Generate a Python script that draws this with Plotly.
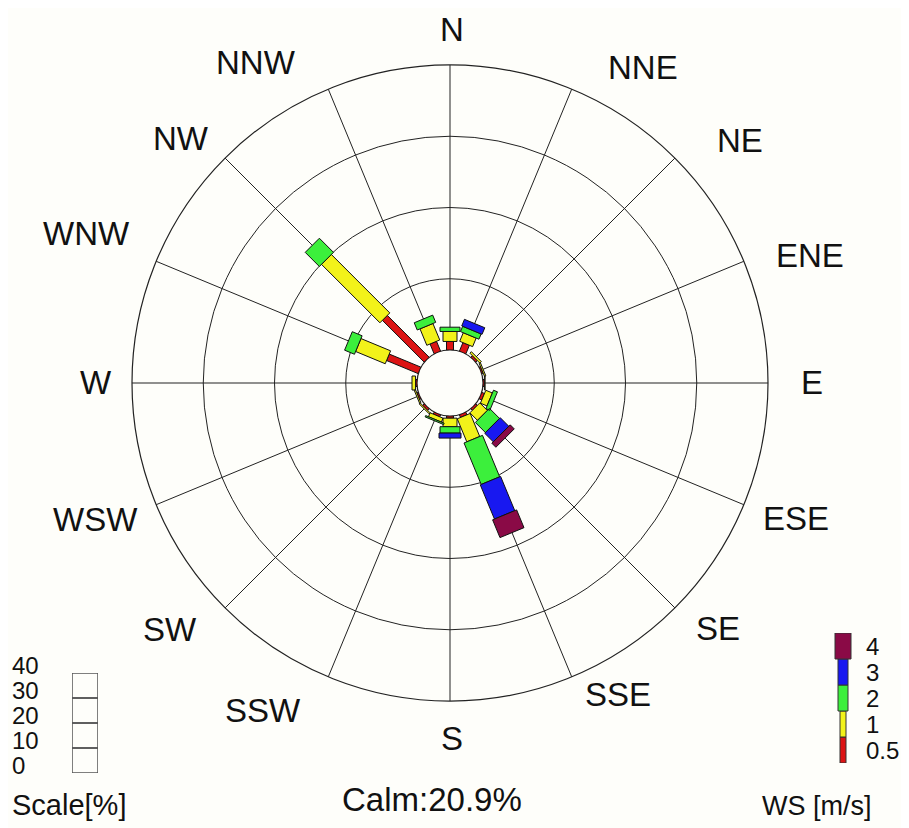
import math
import plotly.graph_objects as go

# ---------------- data ----------------
directions = ["N", "NNE", "NE", "ENE", "E", "ESE", "SE", "SSE",
              "S", "SSW", "SW", "WSW", "W", "WNW", "NW", "NNW"]
speed_classes = ["0.5-1", "1-2", "2-3", "3-4", ">4"]
# frequency [%] per direction and speed class
ws_05_1 = [1.2, 1.3, 0.3, 0.2, 0.2, 0.4, 0.3, 0.4, 0.3, 0.3, 0.3, 0.2, 0.2, 4.8, 8.3, 1.5]
ws_1_2 = [1.4, 1.3, 0.3, 0.2, 0.1, 1.0, 1.5, 3.5, 1.2, 0.6, 0.2, 0.2, 0.5, 4.5, 11.6, 2.5]
ws_2_3 = [0.6, 0.8, 0.0, 0.0, 0.0, 0.6, 2.0, 6.3, 0.9, 0.2, 0.0, 0.0, 0.0, 1.5, 2.8, 1.1]
ws_3_4 = [0.0, 1.0, 0.0, 0.0, 0.0, 0.0, 1.7, 5.2, 0.7, 0.0, 0.0, 0.0, 0.0, 0.0, 0.0, 0.0]
ws_4p = [0.0, 0.0, 0.0, 0.0, 0.0, 0.0, 0.8, 2.7, 0.0, 0.0, 0.0, 0.0, 0.0, 0.0, 0.0, 0.0]
calm_pct = 20.9
ring_ticks = [10, 20, 30, 40]
scale_ticks = [0, 10, 20, 30, 40]
ws_labels = ["0.5", "1", "2", "3", "4"]

series = [ws_05_1, ws_1_2, ws_2_3, ws_3_4, ws_4p]

# ---------------- styles / geometry ----------------
colors = ["#dc1414", "#f2f21a", "#3cef3c", "#1818f0", "#8a0a46"]
bar_px = [7, 14, 20, 22, 26]          # bar widths in pixels per class
leg_w = [0.3, 0.3, 0.5, 0.5, 0.8]     # legend widths (x units)
PAGE_W, PAGE_H = 909, 828
OFF = 8                               # default page body margin
W, H = PAGE_W - OFF, PAGE_H - OFF     # figure size so it fits the window
CX, CY = 450, 383                     # page pixel coordinates of the rose centre
R_PX, HOLE_PX = 318, 33
RMAX = ring_ticks[-1]
K = (R_PX - HOLE_PX) / RMAX
BG = "#fefefa"
FONT = "Liberation Sans, Arial, sans-serif"
INK = "#111111"
# page positions (centres) of the compass labels, in the same order as `directions`
label_xy = [(452, 23), (643, 68), (740, 140), (810, 255), (812, 383), (796, 518),
            (718, 628), (618, 694), (452, 738), (263, 710), (170, 629), (95, 519),
            (96, 383), (86, 233), (181, 138), (256, 63)]


def px(x):
    return (x - OFF) / W


def py(y):
    return (H - (y - OFF)) / H


angles = [i * 360 / len(directions) for i in range(len(directions))]


def rect(theta, ra, rb, half_w):
    """rectangle of constant pixel width along direction theta, in polar data coords"""
    rs, ts = [], []
    da, db = HOLE_PX + ra * K, HOLE_PX + rb * K
    for d, s in [(da, -1), (db, -1), (db, 1), (da, 1), (da, -1)]:
        rho = math.hypot(d, half_w)
        rs.append((rho - HOLE_PX) / K)
        ts.append(theta + s * math.degrees(math.atan2(half_w, d)))
    rs.append(None)
    ts.append(None)
    return rs, ts


fig = go.Figure()

for ci, vals in enumerate(series):
    R, T = [], []
    for di, v in enumerate(vals):
        if v <= 0:
            continue
        base = sum(series[j][di] for j in range(ci))
        rs, ts = rect(angles[di], base, base + v, bar_px[ci] / 2)
        R += rs
        T += ts
    fig.add_trace(go.Scatterpolar(
        r=R, theta=T, mode="lines", fill="toself",
        fillcolor=colors[ci], line=dict(color=INK, width=1),
        name=speed_classes[ci], showlegend=False, hoverinfo="skip"))

# ---------------- WS legend (cartesian x/y) ----------------
for ci in range(len(speed_classes)):
    fig.add_trace(go.Bar(
        x=[0], y=[1], base=[ci], width=[leg_w[ci]],
        marker=dict(color=colors[ci], line=dict(color="#333333", width=1)),
        xaxis="x", yaxis="y", showlegend=False, hoverinfo="skip"))

# ---------------- Scale legend (cartesian x2/y2) ----------------
for i in range(len(scale_ticks) - 1):
    fig.add_trace(go.Bar(
        x=[0], y=[scale_ticks[i + 1] - scale_ticks[i]], base=[scale_ticks[i]], width=[1],
        marker=dict(color="rgba(0,0,0,0)", line=dict(color="#555555", width=1.5)),
        xaxis="x2", yaxis="y2", showlegend=False, hoverinfo="skip"))

annotations = []
for name, (lx, ly) in zip(directions, label_xy):
    if ly - 20 < OFF:
        # keep the top label fully inside the figure
        annotations.append(dict(text=name, x=px(lx), y=py(OFF + 1), xref="paper", yref="paper",
                                xanchor="center", yanchor="top", showarrow=False,
                                font=dict(size=33, color=INK, family=FONT)))
    else:
        annotations.append(dict(text=name, x=px(lx), y=py(ly), xref="paper", yref="paper",
                                xanchor="center", yanchor="middle", showarrow=False,
                                font=dict(size=33, color=INK, family=FONT)))
for i, lab in enumerate(ws_labels):
    annotations.append(dict(text=lab, x=px(864), xref="paper", y=i + 0.5, yref="y",
                            xanchor="left", yanchor="middle", showarrow=False,
                            font=dict(size=24, color=INK, family=FONT)))
for v in scale_ticks:
    annotations.append(dict(text=str(v), x=px(10), xref="paper", y=v, yref="y2",
                            xanchor="left", yanchor="middle", yshift=8, showarrow=False,
                            font=dict(size=24, color=INK, family=FONT)))
annotations.append(dict(text="Scale[%]", x=px(10), y=py(805), xref="paper", yref="paper",
                        xanchor="left", yanchor="middle", showarrow=False,
                        font=dict(size=29, color=INK, family=FONT)))
annotations.append(dict(text="WS [m/s]", x=px(760), y=py(806), xref="paper", yref="paper",
                        xanchor="left", yanchor="middle", showarrow=False,
                        font=dict(size=27, color=INK, family=FONT)))
annotations.append(dict(text=f"Calm:{calm_pct}%", x=px(432), y=py(799),
                        xref="paper", yref="paper", xanchor="center", yanchor="middle",
                        showarrow=False, font=dict(size=33, color=INK, family=FONT)))

fig.update_layout(
    width=W, height=H, autosize=False,
    margin=dict(l=0, r=0, t=0, b=0),
    paper_bgcolor=BG, plot_bgcolor=BG,
    barmode="overlay", showlegend=False,
    polar=dict(
        domain=dict(x=[px(CX - R_PX), px(CX + R_PX)],
                    y=[py(CY + R_PX), py(CY - R_PX)]),
        bgcolor=BG,
        hole=HOLE_PX / R_PX,
        radialaxis=dict(range=[0, RMAX], tickvals=ring_ticks, showticklabels=False,
                        ticks="", showline=False, gridcolor="#222222", gridwidth=1.2,
                        layer="below traces"),
        angularaxis=dict(rotation=90, direction="clockwise", tickmode="array",
                         tickvals=angles, ticktext=directions, showticklabels=False,
                         ticks="",
                         showline=True, linecolor="#222222", linewidth=1.2,
                         gridcolor="#222222", gridwidth=1.2, layer="below traces"),
    ),
    xaxis=dict(domain=[px(823), px(863)], range=[-1, 1], visible=False, fixedrange=True),
    yaxis=dict(domain=[py(763), py(633)], range=[0, len(ws_labels)],
               visible=False, fixedrange=True),
    xaxis2=dict(domain=[px(72), px(98)], range=[-0.5, 0.5], visible=False, anchor="y2"),
    yaxis2=dict(domain=[py(773), py(673)], range=[scale_ticks[0], scale_ticks[-1]],
                visible=False, anchor="x2"),
    annotations=annotations,
)

fig.write_html("out.html")
